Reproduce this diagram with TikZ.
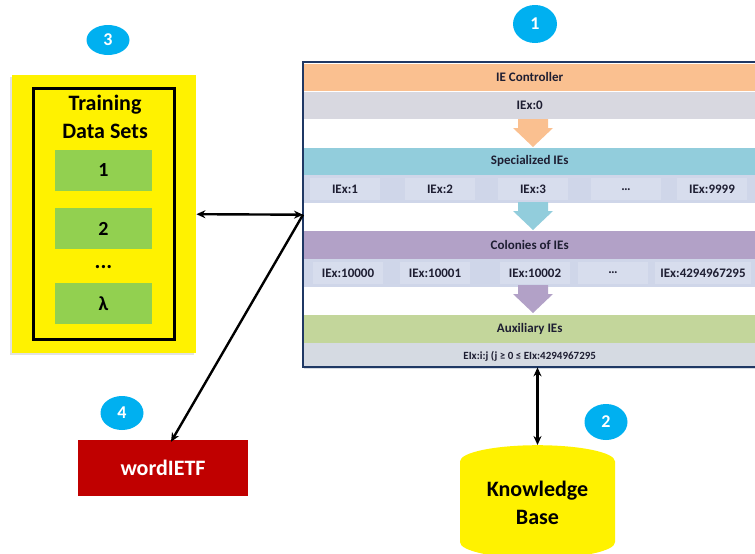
\documentclass[tikz,border=0pt]{standalone}
\usepackage{fontspec}
\setmainfont{Carlito}
\usetikzlibrary{arrows.meta,positioning,shapes.geometric,shadows}

\definecolor{ctrlorange}{RGB}{250,192,144}
\definecolor{ctrlgray}{RGB}{216,216,224}
\definecolor{specteal}{RGB}{146,205,220}
\definecolor{rowblue}{RGB}{207,214,233}
\definecolor{cellblue}{RGB}{215,221,237}
\definecolor{colpurple}{RGB}{178,161,199}
\definecolor{auxgreen}{RGB}{195,214,155}
\definecolor{auxgray}{RGB}{213,218,226}
\definecolor{frameblue}{RGB}{31,56,100}
\definecolor{badgeblue}{RGB}{0,176,240}
\definecolor{dsgreen}{RGB}{146,208,80}
\definecolor{wordred}{RGB}{192,0,0}
\definecolor{txtdark}{RGB}{30,30,50}

\tikzset{
  band/.style={minimum width=451pt, minimum height=27.5pt, inner sep=0pt,
    text=txtdark, font=\bfseries\fontsize{13}{15}\selectfont},
  cell/.style={fill=cellblue, minimum width=70pt, minimum height=22pt,
    inner xsep=5pt, inner ysep=0pt, text=txtdark,
    font=\bfseries\fontsize{13}{15}\selectfont},
  badge/.style={ellipse, fill=badgeblue, text=white, minimum width=43pt,
    minimum height=34pt, inner sep=0pt, font=\bfseries\fontsize{18}{18}\selectfont},
  big/.style={font=\bfseries\fontsize{22}{28}\selectfont, align=center},
  dsbox/.style={fill=dsgreen, minimum width=97pt, minimum height=41pt,
    inner sep=0pt, font=\bfseries\fontsize{20}{20}\selectfont},
  link/.style={line width=2.4pt},
}

\begin{document}
\begin{tikzpicture}[x=1pt, y=-1pt, >={Stealth[length=9pt,width=8pt]}]
\useasboundingbox (0,0) rectangle (755,554);

% IE stack
\node[minimum width=452pt, minimum height=305pt, inner sep=0pt,
  anchor=north west] (ies) at (303,62) {};
\node[band, anchor=north west, fill=ctrlorange] (ctrl) at (304,63.5) {IE Controller};
\node[band, below=0pt of ctrl, fill=ctrlgray] (ctrlx) {IEx:0};
\node[band, below=28pt of ctrlx, fill=specteal] (spec) {Specialized IEs};
\node[band, below=0pt of spec, fill=rowblue] (specx) {};
\node[band, below=28pt of specx, fill=colpurple] (col) {Colonies of IEs};
\node[band, below=0pt of col, fill=rowblue] (colx) {};
\node[band, below=28pt of colx, fill=auxgreen] (aux) {Auxiliary IEs};
\node[band, below=0pt of aux, minimum height=26pt, fill=auxgray,
  font=\bfseries\fontsize{11}{13}\selectfont] (auxx) {EIx:i:j (j ≥ 0 ≤ EIx:4294967295};
\draw[frameblue, line width=2pt] (ies.north east) -| (ies.south west) -- (ies.south east);

\foreach \x/\t [count=\i] in {345/IEx:1, 440/IEx:2, 533/IEx:3, 626/\dots, 712/IEx:9999}
  \node[cell] (s\i) at (\x,0 |- specx) {\t};
\foreach \x/\t [count=\i] in {348/IEx:10000, 435/IEx:10001, 535/IEx:10002, 613/\dots, 703/IEx:4294967295}
  \node[cell] (c\i) at (\x,0 |- colx) {\t};

% flow arrows
\foreach \y/\c in {119/ctrlorange, 202/specteal, 285/colpurple}
  \fill[\c] (518,\y) -- (548,\y) -- (548,\y+9) -- (553,\y+9) -- (533,\y+28)
    -- (513,\y+9) -- (518,\y+9) -- cycle;

% training data
\node[fill=yellow, minimum width=184pt, minimum height=278pt, anchor=north west,
  drop shadow={shadow xshift=-2pt, shadow yshift=-2pt, fill=gray!45}] (tds) at (12,75) {};
\node[draw, line width=3pt, minimum width=141pt, minimum height=251pt,
  inner sep=0pt] (tdsframe) at (103.5,213.5) {};
\node[big] (tdstitle) at (105,117) {Training\\Data Sets};
\node[dsbox] (ds1) at (103.5,170.5) {1};
\node[dsbox] (ds2) at (103.5,228.5) {2};
\node[font=\bfseries\fontsize{22}{22}\selectfont] (dsdots) at (103.5,267) {...};
\node[dsbox] (dsl) at (103.5,303.5) {λ};

\node[fill=wordred, text=white, minimum width=170pt, minimum height=56pt,
  big] (word) at (163,468) {wordIETF};
\node[cylinder, shape border rotate=90, aspect=0.3, fill=yellow, anchor=north,
  minimum width=155pt, minimum height=108pt, text depth=19pt,
  big] (kb) at (537.5,445) {Knowledge\\Base};

\node[badge, minimum width=44pt, minimum height=38pt] (b1) at (535,24) {1};
\node[badge, minimum height=36pt] (b2) at (606,422) {2};
\node[badge, minimum height=30pt] (b3) at (108,40) {3};
\node[badge] (b4) at (122,413) {4};

\draw[link,<->] (tds.east) -- (ies.west);
\draw[link,->] (ies.west) -- ([xshift=8pt,yshift=-2pt]word.north);
\draw[link,<->] (kb.north |- ies.south) -- (kb.north);
\end{tikzpicture}
\end{document}
